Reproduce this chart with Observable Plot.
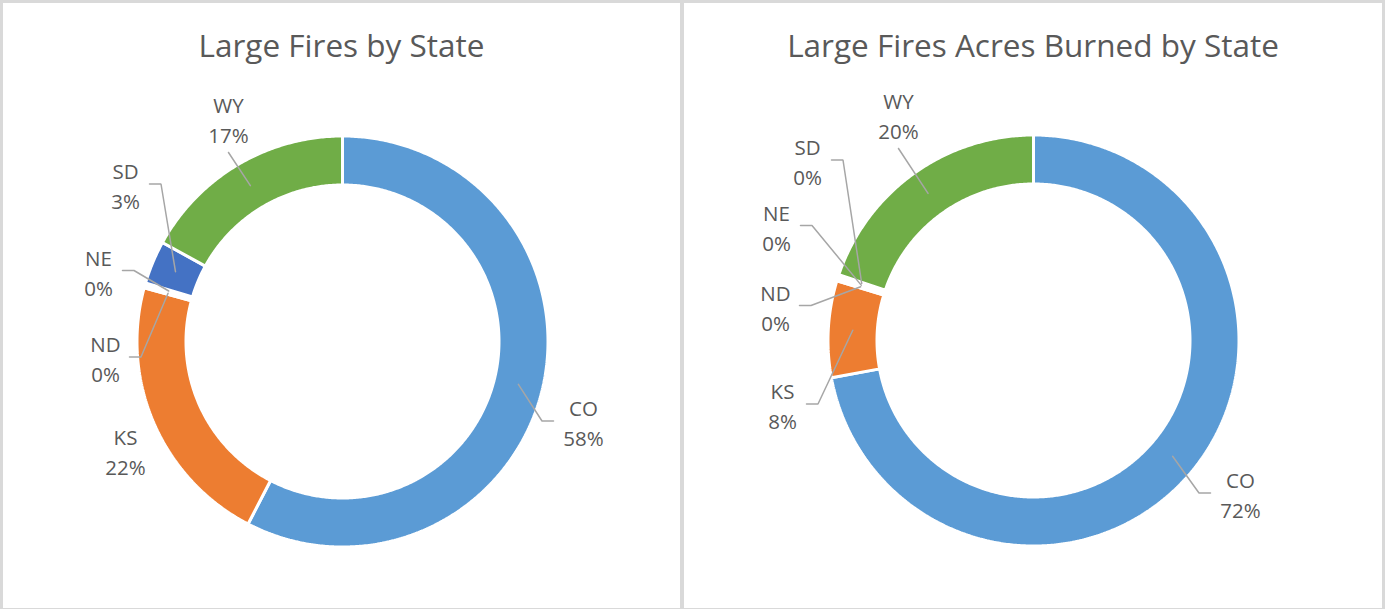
<!DOCTYPE html>
<html><head><meta charset="utf-8">
<script src="https://cdn.jsdelivr.net/npm/d3@7"></script>
<script src="https://cdn.jsdelivr.net/npm/@observablehq/plot@0.6"></script>
<style>
html,body{margin:0;padding:0;background:#fff;}
#frame{position:relative;width:1385px;height:609px;background:#d9d9d9;overflow:hidden;}
.panel{position:absolute;top:3px;height:605px;background:#fff;}
.title{height:80px;box-sizing:border-box;padding-top:20px;text-align:center;font-family:"Open Sans";font-size:31.5px;color:#595959;line-height:normal;white-space:nowrap;}
</style></head><body>
<div id="frame">
  <div class="panel" id="p1" style="left:3px;width:677px"><div class="title">Large Fires by State</div></div>
  <div class="panel" id="p2" style="left:684px;width:698px"><div class="title">Large Fires Acres Burned by State</div></div>
</div>
<script>
// ---- data ----
const states = ["CO", "KS", "ND", "NE", "SD", "WY"];
const stateColors = ["#5B9BD5", "#ED7D31", "#A5A5A5", "#FFC000", "#4472C4", "#70AD47"];
const largeFires = [288, 108, 1, 1, 17, 85];                 // count of large fires
const acresBurnedShare = [72.1, 7.6, 0.2, 0.1, 0.2, 19.8];   // share of acres burned
const titles = ["Large Fires by State", "Large Fires Acres Burned by State"];

// ---- layout (label placement relative to donut centre, px) ----
const layoutFires = [
  {dx: 241, dy: 82, leader: "right"},
  {dx: -217, dy: 110.5, leader: "none"},
  {dx: -237, dy: 18, leader: "left"},
  {dx: -244, dy: -68.5, leader: "left"},
  {dx: -217, dy: -155, leader: "left"},
  {dx: -114, dy: -221, leader: "above"}
];
const layoutAcres = [
  {dx: 207, dy: 155, leader: "right"},
  {dx: -251, dy: 66, leader: "left"},
  {dx: -258, dy: -32.5, leader: "left"},
  {dx: -257, dy: -112.5, leader: "left"},
  {dx: -226, dy: -178, leader: "left"},
  {dx: -135, dy: -224, leader: "above"}
];

const SEP = 3;              // white separator width
const R_VIS = 204, r_VIS = 158;
const R = R_VIS + SEP / 2, r = r_VIS - SEP / 2;

function donut(values, layout, width, height, cx, cy) {
  const total = d3.sum(values);
  const arcs = d3.pie().sort(null).value(d => d)(values);
  const poly = [], leaders = [], labels = [];
  arcs.forEach((a, i) => {
    const s = states[i];
    const a0 = a.startAngle, a1 = a.endAngle;
    const n = Math.max(2, Math.ceil((a1 - a0) / (Math.PI / 360)) + 1);
    const outer = [], inner = [];
    for (let k = 0; k < n; k++) {
      const t = a0 + (a1 - a0) * k / (n - 1);
      outer.push({state: s, x: R * Math.sin(t), y: -R * Math.cos(t)});
      inner.push({state: s, x: r * Math.sin(t), y: -r * Math.cos(t)});
    }
    poly.push(...outer, ...inner.reverse());
    const am = (a0 + a1) / 2, rm = (R_VIS + r_VIS) / 2;
    const c = {state: s, x: rm * Math.sin(am), y: -rm * Math.cos(am)};
    const L = layout[i];
    labels.push({state: s, x: L.dx, y: L.dy, text: `${s}\n${Math.round(values[i] / total * 100)}%`});
    if (L.leader === "above") {
      leaders.push({state: s, x: L.dx, y: L.dy + 32}, c);
    } else if (L.leader === "left") {
      leaders.push({state: s, x: L.dx + 24, y: L.dy - 2.5}, {state: s, x: L.dx + 35.5, y: L.dy - 2.5}, c);
    } else if (L.leader === "right") {
      leaders.push({state: s, x: L.dx - 30, y: L.dy - 2.5}, {state: s, x: L.dx - 41.5, y: L.dy - 2.5}, c);
    }
  });
  return Plot.plot({
    width, height, margin: 0,
    x: {domain: [-cx, width - cx], range: [0, width], axis: null},
    y: {domain: [-cy, height - cy], range: [0, height], axis: null},
    color: {domain: states, range: stateColors},
    style: {fontFamily: "Open Sans", background: "transparent", overflow: "visible"},
    marks: [
      Plot.line(poly, {x: "x", y: "y", z: "state", fill: "state", stroke: "white", strokeWidth: SEP, curve: "linear-closed", strokeLinejoin: "miter"}),
      Plot.line(leaders, {x: "x", y: "y", z: "state", stroke: "#a6a6a6", strokeWidth: 1.5, strokeLinejoin: "miter"}),
      Plot.text(labels, {x: "x", y: "y", text: "text", fontSize: 20.5, lineHeight: 1.46, dy: -2, fill: "#595959"})
    ]
  });
}

document.getElementById("p1").appendChild(donut(largeFires, layoutFires, 677, 525, 339, 258));
document.getElementById("p2").appendChild(donut(acresBurnedShare, layoutAcres, 698, 525, 349, 257));
</script>
</body></html>
